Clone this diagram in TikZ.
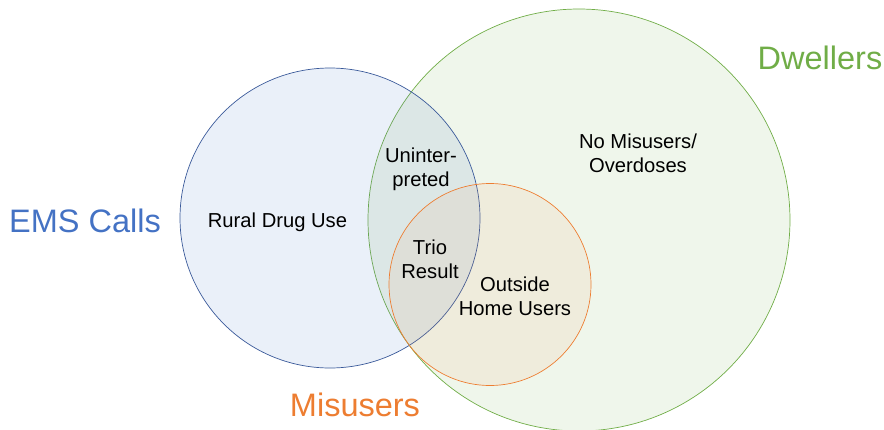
\documentclass[tikz,border=0pt]{standalone}
\usepackage{fontspec}
\setmainfont{Liberation Sans}
\definecolor{emsblue}{HTML}{4472C4}
\definecolor{emsedge}{HTML}{3A5A9A}
\definecolor{dwellgreen}{HTML}{70AD47}
\definecolor{misorange}{HTML}{ED7D31}

\begin{document}
\begin{tikzpicture}[x=1pt, y=-1pt,
        set/.style={circle, draw, inner sep=0pt, line width=0.7pt, fill opacity=0.11},
        setname/.style={font=\fontsize{32.5}{38}\selectfont},
        region/.style={align=center, font=\fontsize{20.2}{24}\selectfont}]
    \useasboundingbox (0,0) rectangle (884,429);
    % the three sets
    \node[set, draw=dwellgreen, fill=dwellgreen, minimum size=422pt] (dwell) at (579,220) {};
    \node[set, draw=emsedge, fill=emsblue, minimum size=300pt] (ems) at (330,218) {};
    \node[set, draw=misorange, fill=misorange!80!white, fill opacity=0.1, minimum size=202pt] (mis) at (490,284.5) {};
    % set names
    \node[setname, text=emsblue] (emsname) at (85,221) {EMS Calls};
    \node[setname, text=misorange] (misname) at (355,405) {Misusers};
    \node[setname, text=dwellgreen] (dwellname) at (820,58) {Dwellers};
    % regions
    \node[region, anchor=base] (rural) at (277.5,227) {Rural Drug Use};
    \node[region] (unint) at (421,169) {Uninter-\\preted};
    \node[region] (trio) at (430,259) {Trio\\Result};
    \node[region] (nomis) at (638,153) {No Misusers/\\Overdoses};
    \node[region] (outside) at (515,296) {Outside\\Home Users};
\end{tikzpicture}
\end{document}
